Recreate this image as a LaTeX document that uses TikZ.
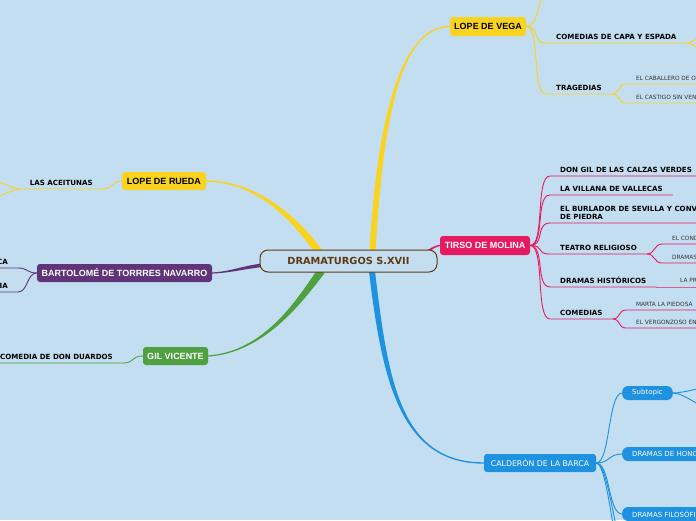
\documentclass[tikz,border=0pt]{standalone}
\usepackage{fontspec}
\setmainfont{DejaVu Sans}
\newfontfamily\arialfont{Liberation Sans}

\definecolor{bgblue}{RGB}{195,222,240}
\definecolor{vegacol}{RGB}{250,211,30}
\definecolor{tirsocol}{RGB}{230,26,96}
\definecolor{calcol}{RGB}{30,145,225}
\definecolor{torrescol}{RGB}{96,52,120}
\definecolor{gilcol}{RGB}{78,160,64}
\definecolor{rootcol}{RGB}{96,58,16}
\definecolor{leafcol}{RGB}{50,50,50}

\pgfdeclarelayer{bg}
\pgfdeclarelayer{branch}
\pgfsetlayers{bg,branch,main}

\begin{document}
\begin{tikzpicture}[x=1pt, y=-1pt,
    myroot/.style={rectangle, draw=rootcol, line width=1pt, fill=bgblue, rounded corners=8pt, minimum width=177pt, minimum height=22pt, text=rootcol, font=\bfseries\fontsize{9.8}{11}\selectfont},
    mymain/.style={rectangle, rounded corners=3pt, minimum height=18pt, inner sep=2pt, text=white, font=\arialfont\bfseries\fontsize{9}{10}\selectfont},
    mysub/.style={rectangle, rounded corners=6pt, fill=calcol, minimum height=14pt, inner xsep=10pt, inner ysep=2pt, text=white, font=\fontsize{7}{8}\selectfont},
    mytopic/.style={inner xsep=10pt, inner ysep=3pt, align=left, text=black, font=\bfseries\fontsize{7.1}{8.2}\selectfont},
    myleaf/.style={inner xsep=10pt, inner ysep=3.5pt, text=leafcol, font=\fontsize{5.8}{6.8}\selectfont},
    myline/.style={line width=0.9pt},
]
\begin{pgfonlayer}{bg}
\fill[bgblue] (0,0) rectangle (696,520);
\end{pgfonlayer}
\useasboundingbox (0,0) rectangle (696,520);
\clip (0,0) rectangle (696,520);

\node[myroot] (root) at (348.5,261) {DRAMATURGOS S.XVII};
\node[mymain, fill=vegacol, text=black, minimum width=76pt, minimum height=19pt] (vega) at (488,26.5) {LOPE DE VEGA};
\node[mymain, fill=tirsocol, minimum width=90pt, minimum height=19pt] (tirso) at (485,245.5) {TIRSO DE MOLINA};
\node[mymain, fill=calcol, minimum width=112pt, font=\fontsize{7.8}{9}\selectfont] (calderon) at (540,463) {CALDERÓN DE LA BARCA};
\node[mymain, fill=vegacol, text=black, minimum width=84pt] (rueda) at (164,181) {LOPE DE RUEDA};
\node[mymain, fill=torrescol, minimum width=175pt] (torres) at (124.5,273) {BARTOLOMÉ DE TORRRES NAVARRO};
\node[mymain, fill=gilcol, minimum width=65pt] (gil) at (175.5,356) {GIL VICENTE};

\node[mytopic, anchor=south west] (capa) at (546,43) {COMEDIAS DE CAPA Y ESPADA};
\node[mytopic, anchor=south west] (tragedias) at (546,94) {TRAGEDIAS};
\node[myleaf, anchor=south west] (caballero) at (626,84) {EL CABALLERO DE OLMEDO};
\node[myleaf, anchor=south west] (castigo) at (626,103) {EL CASTIGO SIN VENGANZA};

\node[mytopic, anchor=south west] (calzas) at (550,176) {DON GIL DE LAS CALZAS VERDES};
\node[mytopic, anchor=south west] (villana) at (550,195) {LA VILLANA DE VALLECAS};
\node[mytopic, anchor=south west] (burlador) at (550,223) {EL BURLADOR DE SEVILLA Y CONVIDADO\\DE PIEDRA};
\node[mytopic, anchor=south west] (religioso) at (550,254) {TEATRO RELIGIOSO};
\node[mytopic, anchor=south west] (historicos) at (550,287) {DRAMAS HISTÓRICOS};
\node[mytopic, anchor=south west] (comedias) at (550,319) {COMEDIAS};
\node[myleaf, anchor=south west] (condenado) at (662,244) {EL CONDENADO POR DESCONFIADO};
\node[myleaf, anchor=south west] (biblicos) at (662,263) {DRAMAS BÍBLICOS};
\node[myleaf, anchor=south west] (prudencia) at (670,287) {LA PRUDENCIA EN LA MUJER};
\node[myleaf, anchor=south west] (marta) at (626,310) {MARTA LA PIEDOSA};
\node[myleaf, anchor=south west] (vergonzoso) at (626,328) {EL VERGONZOSO EN PALACIO};

\node[mysub, anchor=west] (subtopic) at (622,393) {Subtopic};
\node[mysub, anchor=west] (honor) at (622,454) {DRAMAS DE HONOR};
\node[mysub, anchor=west] (filosoficos) at (622,514) {DRAMAS FILOSÓFICOS};

\node[mytopic, anchor=south east] (aceitunas) at (103,189) {LAS ACEITUNAS};
\node[mytopic, anchor=south east] (soldadesca) at (18,268) {COMEDIA SOLDADESCA};
\node[mytopic, anchor=south east] (tinellaria) at (18,292) {COMEDIA TINELLARIA};
\node[mytopic, anchor=south east] (duardos) at (123,363) {TRAGICOMEDIA DE DON DUARDOS};

\coordinate (vtop) at (552,-14);
\coordinate (capa1) at (716,29);
\coordinate (capa2) at (716,58);
\coordinate (sub1) at (716,386);
\coordinate (sub2) at (716,411);
\coordinate (cal4) at (630,560);
\coordinate (cal5) at (632,600);
\coordinate (rue1) at (-18,176);
\coordinate (rue2) at (-18,202);

\begin{pgfonlayer}{branch}
\fill[vegacol] ([shift={(21,2)}]root.north) .. controls (377,120) and (400,26) .. ([shift={(0,-0.7)}]vega.west) -- ([shift={(0,0.7)}]vega.west) .. controls (400,27.4) and (383,120) .. ([shift={(27,2)}]root.north) -- cycle;
\fill[vegacol] ([shift={(-27,0)}]root.north) .. controls (303,223) and (260,180.3) .. ([shift={(0,-0.7)}]rueda.east) -- ([shift={(0,0.7)}]rueda.east) .. controls (260,181.7) and (297,227) .. ([shift={(-34,3)}]root.north) -- cycle;
\fill[torrescol] ([shift={(6,2)}]root.west) .. controls (240,266) and (232,271.4) .. ([shift={(0,-0.6)}]torres.east) -- ([shift={(0,0.6)}]torres.east) .. controls (232,272.6) and (240,269.6) .. ([shift={(6,5.6)}]root.west) -- cycle;
\fill[gilcol] ([shift={(-31,-3)}]root.south) .. controls (297.6,298.2) and (265,351.4) .. ([shift={(0,-0.6)}]gil.east) -- ([shift={(0,0.6)}]gil.east) .. controls (265,352.6) and (302.4,301.8) .. ([shift={(-24,0.8)}]root.south) -- cycle;
\fill[tirsocol] ([shift={(-17,-6.5)}]root.east) .. controls (430,248.5) and (435,245) .. ([shift={(0,-0.6)}]tirso.west) -- ([shift={(0,0.6)}]tirso.west) .. controls (435,246.5) and (430,251.5) .. ([shift={(-17,-3.5)}]root.east) -- cycle;
\fill[calcol] ([shift={(20.5,-1)}]root.south) .. controls (382,380) and (400,463.7) .. ([shift={(0,0.7)}]calderon.west) -- ([shift={(0,-0.7)}]calderon.west) .. controls (400,462.3) and (388,380) .. ([shift={(26.5,-1)}]root.south) -- cycle;
\end{pgfonlayer}

\draw[myline, vegacol] (vega.east) .. controls +(15,0) and +(-15,0) .. (vtop);
\draw[myline, vegacol] (vega.east) .. controls +(15,0) and +(-15,0) .. (capa.south west) -- (capa.south east);
\draw[myline, vegacol] (vega.east) .. controls +(15,0) and +(-15,0) .. (tragedias.south west) -- (tragedias.south east);
\draw[myline, vegacol] (capa.south east) .. controls +(8,0) and +(-8,0) .. (capa1);
\draw[myline, vegacol] (capa.south east) .. controls +(8,0) and +(-8,0) .. (capa2);
\draw[myline, vegacol] (tragedias.south east) .. controls +(8,0) and +(-8,0) .. (caballero.south west) -- (caballero.south east);
\draw[myline, vegacol] (tragedias.south east) .. controls +(8,0) and +(-8,0) .. (castigo.south west) -- (castigo.south east);

\draw[myline, tirsocol] (tirso.east) .. controls +(15,0) and +(-15,0) .. (calzas.south west) -- (calzas.south east);
\draw[myline, tirsocol] (tirso.east) .. controls +(15,0) and +(-15,0) .. (villana.south west) -- (villana.south east);
\draw[myline, tirsocol] (tirso.east) .. controls +(15,0) and +(-15,0) .. (burlador.south west) -- (burlador.south east);
\draw[myline, tirsocol] (tirso.east) .. controls +(15,0) and +(-15,0) .. (religioso.south west) -- (religioso.south east);
\draw[myline, tirsocol] (tirso.east) .. controls +(15,0) and +(-15,0) .. (historicos.south west) -- (historicos.south east);
\draw[myline, tirsocol] (tirso.east) .. controls +(15,0) and +(-15,0) .. (comedias.south west) -- (comedias.south east);
\draw[myline, tirsocol] (religioso.south east) .. controls +(8,0) and +(-8,0) .. (condenado.south west) -- (condenado.south east);
\draw[myline, tirsocol] (religioso.south east) .. controls +(8,0) and +(-8,0) .. (biblicos.south west) -- (biblicos.south east);
\draw[myline, tirsocol] (historicos.south east) -- (prudencia.south west) -- (prudencia.south east);
\draw[myline, tirsocol] (comedias.south east) .. controls +(8,0) and +(-8,0) .. (marta.south west) -- (marta.south east);
\draw[myline, tirsocol] (comedias.south east) .. controls +(8,0) and +(-8,0) .. (vergonzoso.south west) -- (vergonzoso.south east);

\draw[myline, calcol] (calderon.east) .. controls +(14,0) and +(-14,0) .. (subtopic.west);
\draw[myline, calcol] (calderon.east) .. controls +(14,0) and +(-14,0) .. (honor.west);
\draw[myline, calcol] (calderon.east) .. controls +(14,0) and +(-14,0) .. (filosoficos.west);
\draw[myline, calcol] (calderon.east) .. controls +(14,0) and +(-14,0) .. (cal4);
\draw[myline, calcol] (calderon.east) .. controls +(14,0) and +(-14,0) .. (cal5);
\draw[myline, calcol] (subtopic.east) .. controls +(12,0) and +(-12,0) .. (sub1);
\draw[myline, calcol] (subtopic.east) .. controls +(12,0) and +(-12,0) .. (sub2);

\draw[myline, vegacol] (rueda.west) .. controls +(-10,0) and +(10,0) .. (aceitunas.south east) -- (aceitunas.south west);
\draw[myline, vegacol] (aceitunas.south west) .. controls +(-8,0) and +(8,0) .. (rue1);
\draw[myline, vegacol] (aceitunas.south west) .. controls +(-8,0) and +(8,0) .. (rue2);
\draw[myline, torrescol] (torres.west) .. controls +(-10,0) and +(10,0) .. (soldadesca.south east) -- (soldadesca.south west);
\draw[myline, torrescol] (torres.west) .. controls +(-10,0) and +(10,0) .. (tinellaria.south east) -- (tinellaria.south west);
\draw[myline, gilcol] (gil.west) .. controls +(-12,0) and +(12,0) .. (duardos.south east) -- (duardos.south west);
\end{tikzpicture}
\end{document}
